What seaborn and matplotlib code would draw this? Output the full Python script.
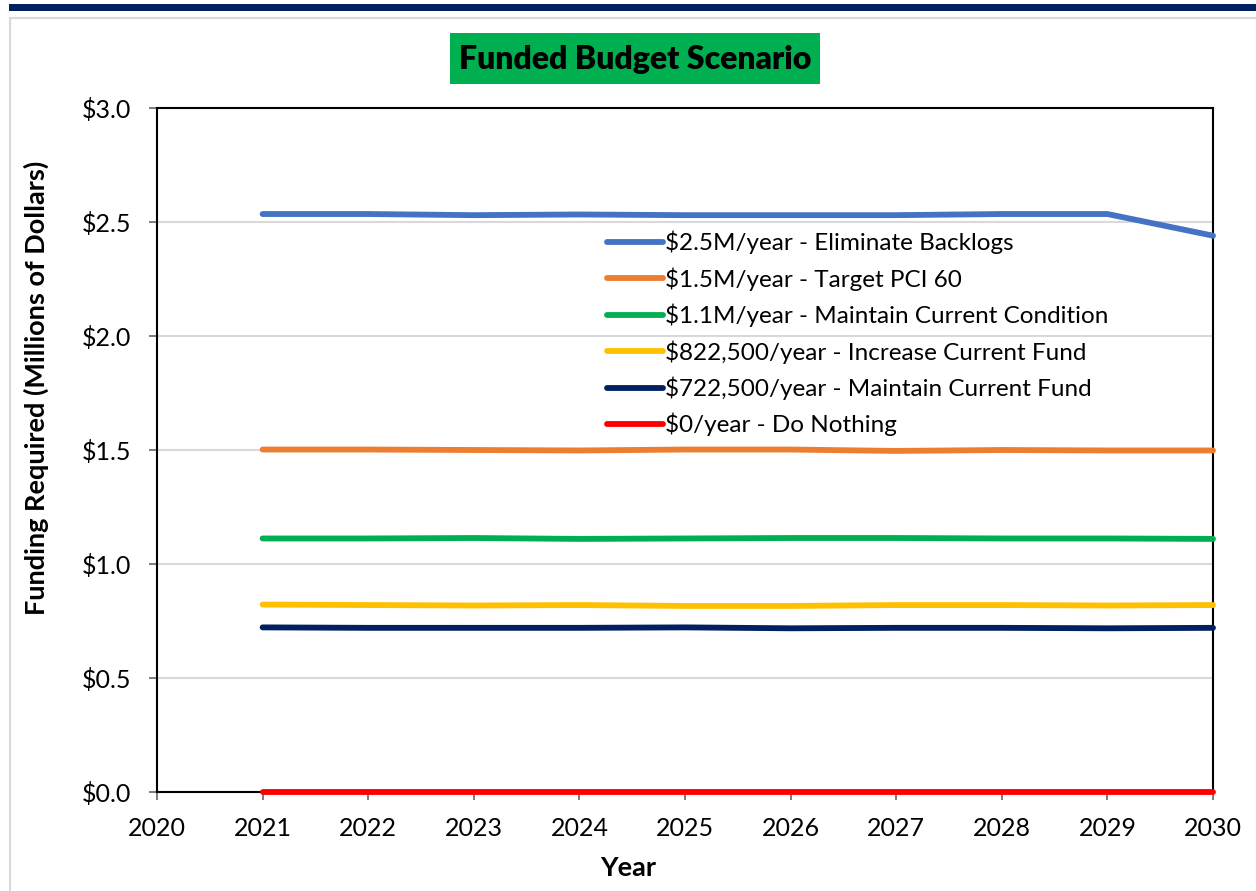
import matplotlib
matplotlib.use("Agg")
import matplotlib.pyplot as plt
from matplotlib.patches import Rectangle
import numpy as np
import pandas as pd
import seaborn as sns

years = [2021, 2022, 2023, 2024, 2025, 2026, 2027, 2028, 2029, 2030]

scenario_labels = [
    "$2.5M/year - Eliminate Backlogs",
    "$1.5M/year - Target PCI 60",
    "$1.1M/year - Maintain Current Condition",
    "$822,500/year - Increase Current Fund",
    "$722,500/year - Maintain Current Fund",
    "$0/year - Do Nothing",
]

eliminate_backlogs = [2.535, 2.535, 2.530, 2.533, 2.530, 2.530, 2.530, 2.535, 2.535, 2.440]
target_pci_60 = [1.502, 1.502, 1.500, 1.498, 1.502, 1.502, 1.496, 1.500, 1.498, 1.498]
maintain_condition = [1.112, 1.112, 1.114, 1.110, 1.112, 1.114, 1.114, 1.112, 1.112, 1.110]
increase_fund = [0.822, 0.820, 0.818, 0.820, 0.816, 0.816, 0.820, 0.820, 0.818, 0.820]
maintain_fund = [0.722, 0.720, 0.720, 0.720, 0.722, 0.718, 0.720, 0.720, 0.718, 0.720]
do_nothing = [0.0, 0.0, 0.0, 0.0, 0.0, 0.0, 0.0, 0.0, 0.0, 0.0]

series_values = [eliminate_backlogs, target_pci_60, maintain_condition,
                 increase_fund, maintain_fund, do_nothing]
series_colors = ["#4472C4", "#ED7D31", "#00B050", "#FFC000", "#002060", "#FF0000"]

y_ticks = [0.0, 0.5, 1.0, 1.5, 2.0, 2.5, 3.0]
x_ticks = [2020, 2021, 2022, 2023, 2024, 2025, 2026, 2027, 2028, 2029, 2030]

rows = []
for label, vals in zip(scenario_labels, series_values):
    for yr, v in zip(years, vals):
        rows.append({"Year": yr, "Funding": v, "Scenario": label})
df = pd.DataFrame(rows)

sns.set_theme(style="white")
plt.rcParams["font.family"] = ["Lato", "DejaVu Sans"]

W, H = 1256, 891
fig = plt.figure(figsize=(W / 100, H / 100), dpi=100)
fig.patch.set_facecolor("white")

def fx(px):
    return px / W

def fy(py):
    return 1 - py / H

# page decoration: navy band and light grey frame (behind everything)
fig.patches.append(Rectangle((fx(9), fy(11)), 1 - fx(9), fy(4) - fy(11),
                             transform=fig.transFigure, facecolor="#002060",
                             edgecolor="none", zorder=-10))
fig.patches.append(Rectangle((fx(10), fy(900)), 1.2, fy(18) - fy(900),
                             transform=fig.transFigure, facecolor="none",
                             edgecolor="#D9D9D9", linewidth=1.5, zorder=-10))

ax = fig.add_axes([fx(157), fy(792), fx(1213) - fx(157), fy(108) - fy(792)])
ax.set_zorder(2)
ax.patch.set_alpha(0)

sns.lineplot(data=df, x="Year", y="Funding", hue="Scenario",
             hue_order=scenario_labels, palette=series_colors,
             linewidth=4.2, ax=ax, legend=True)

for line in ax.get_lines():
    line.set_solid_capstyle("round")
    line.set_clip_on(False)
    line.set_zorder(5)

ax.set_xlim(2020, 2030)
ax.set_ylim(0, 3)
ax.set_xticks(x_ticks)
ax.set_xticklabels([str(t) for t in x_ticks])
ax.set_yticks(y_ticks)
ax.set_yticklabels([f"${t:.1f}" for t in y_ticks])

ax.grid(axis="y", color="#D9D9D9", linewidth=1.5)
ax.grid(axis="x", visible=False)
ax.set_axisbelow(True)
for sp in ax.spines.values():
    sp.set_visible(True)
    sp.set_color("black")
    sp.set_linewidth(1.5)

ax.tick_params(axis="both", which="major", direction="out", length=5.8,
               width=1.2, color="#666666", labelsize=18, labelcolor="black")
ax.tick_params(axis="x", pad=12, bottom=True)
ax.tick_params(axis="y", pad=13, left=True)

ax.set_xlabel("")
ax.set_ylabel("")

fig.text(fx(628), fy(868), "Year", ha="center", va="center",
         fontsize=19.5, fontweight="bold", color="black")
fig.text(fx(36), fy(388), "Funding Required (Millions of Dollars)",
         ha="center", va="center", rotation=90,
         fontsize=19.5, fontweight="bold", color="black")

# title block
fig.patches.append(Rectangle((fx(450), fy(84)), fx(820) - fx(450), fy(33) - fy(84),
                             transform=fig.transFigure, facecolor="#00B050",
                             edgecolor="none", zorder=1))
fig.text(fx(635), fy(59), "Funded Budget Scenario", ha="center", va="center",
         fontsize=23, fontweight="heavy", color="black", zorder=3)

handles, labels = ax.get_legend_handles_labels()
for h in handles:
    h.set_solid_capstyle("round")
    h.set_linewidth(4.2)
leg = ax.legend(handles, labels, loc="upper left",
                bbox_to_anchor=(fx(607), fy(231)),
                bbox_transform=fig.transFigure, frameon=False,
                fontsize=17.5, handlelength=2.3, handletextpad=0.1,
                labelspacing=0.53, borderpad=0, borderaxespad=0)
for t in leg.get_texts():
    t.set_color("black")

fig.savefig("out.png", dpi=100)
